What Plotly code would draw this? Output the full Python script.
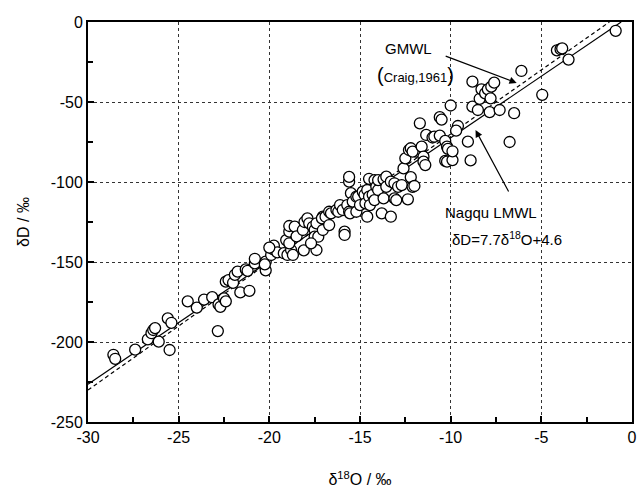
import numpy as np
import plotly.graph_objects as go

# δ18O (‰) and δD (‰) of samples
d18O = [
    -28.6, -28.5, -27.4, -26.7, -26.5, -26.4, -26.3, -26.1, -25.5, -25.6, -25.4,
    -24.5, -24.0, -23.6, -23.15, -22.84, -22.8, -22.7, -22.5, -22.4,
    -22.4, -22.25, -22.0, -21.9, -21.75, -21.6, -21.1, -21.3, -21.2, -20.8, -20.8,
    -20.2, -20.2, -20.25, -19.9, -19.8, -19.75, -19.56, -20.0,
    -19.2, -19.07, -19.0, -18.8, -18.7, -18.9, -18.9, -18.9, -18.6, -18.5, -18.15,
    -18.06, -18.1, -17.9, -17.8, -17.6, -17.5, -17.5, -17.4, -17.3, -17.7, -17.4,
    -17.05, -17.05, -17.1,
    -16.9, -16.7, -16.7, -16.6, -16.3, -16.2, -16.1, -15.95, -15.85, -15.85, -15.7,
    -15.6, -15.55, -15.5, -15.6, -15.6, -15.4, -15.2, -15.2, -15.1, -15.0, -14.85,
    -14.75, -14.7, -14.6, -14.5, -14.6, -14.5, -14.45, -14.3, -14.2, -14.2, -14.1,
    -14.0, -14.0,
    -13.8, -13.7, -13.7, -13.55, -13.55, -13.3, -13.3, -13.1, -13.1, -13.0, -12.9,
    -12.7, -12.6, -12.5, -12.36, -12.3, -12.2, -12.2, -12.1, -12.0, -11.9, -12.1,
    -11.7, -11.6, -11.5, -11.5, -11.4, -11.35, -11.0, -10.9, -10.6, -10.6, -10.5,
    -10.3, -10.2, -10.15, -10.3, -10.2, -10.0, -9.9, -9.9, -9.6, -9.7, -9.05, -8.9,
    -8.8, -8.8, -8.5, -8.4, -8.3, -8.1, -7.95, -7.76, -7.6, -7.8, -7.85, -7.3, -6.5,
    -6.75, -6.1, -4.95, -4.14, -3.94, -3.85, -3.5, -0.9,
]
dD = [
    -208.0, -210.5, -204.8, -198.3, -194.5, -192.5, -191.3, -199.8, -205.0, -185.2, -188.0,
    -174.6, -178.5, -173.5, -172.0, -193.2, -176.5, -178.0, -172.7, -174.6,
    -162.3, -161.3, -163.0, -158.0, -156.0, -169.0, -168.0, -154.6, -155.5, -150.8, -148.0,
    -155.2, -149.8, -151.5, -145.6, -141.9, -139.8, -144.0, -141.0,
    -144.5, -136.3, -145.6, -142.5, -145.6, -131.0, -127.5, -138.3, -127.9, -134.0, -130.0,
    -125.0, -142.7, -122.7, -125.8, -128.0, -130.0, -134.2, -142.5, -134.2, -138.3, -125.8,
    -121.7, -130.0, -122.7,
    -121.7, -118.6, -126.9, -119.6, -117.5, -118.6, -114.4, -117.5, -131.0, -133.1, -114.4,
    -118.6, -119.6, -107.0, -99.8, -96.8, -112.3, -109.2, -118.6, -109.2, -114.4, -106.0,
    -108.0, -113.3, -105.0, -109.2, -121.7, -98.0, -114.4, -108.0, -98.8, -111.3, -102.9,
    -105.0, -98.8,
    -119.6, -98.3, -110.2, -96.7, -103.0, -99.8, -121.7, -100.8, -110.2, -111.3, -103.0,
    -101.9, -91.5, -85.2, -110.8, -80.0, -78.9, -97.0, -103.0, -102.5, -81.0, -81.0,
    -63.3, -77.9, -84.2, -87.3, -89.4, -70.6, -72.2, -71.7, -71.0, -59.5, -61.0,
    -74.3, -77.9, -79.3, -86.8, -87.3, -52.2, -86.3, -80.8, -65.0, -67.9, -74.8, -86.5,
    -37.3, -52.9, -55.0, -48.0, -42.1, -44.6, -42.1, -40.4, -37.9, -47.7, -56.3, -55.0, -57.0,
    -75.0, -30.6, -45.5, -17.7, -17.0, -16.5, -23.5, -5.5,
]

# Meteoric water lines: slope, intercept
line_names = ["Nagqu LMWL", "GMWL"]
line_slopes = [7.7, 8.0]
line_intercepts = [4.6, 10.0]
line_dashes = ["solid", "4px,3px"]

x_ticks = [-30, -25, -20, -15, -10, -5, 0]
y_ticks = [-250, -200, -150, -100, -50, 0]

FONT = "Liberation Sans, Arial, sans-serif"

fig = go.Figure()

for name, a, b, dash in zip(line_names, line_slopes, line_intercepts, line_dashes):
    xs = np.array([-30.0, -b / a])
    fig.add_trace(go.Scatter(
        x=xs, y=a * xs + b, mode="lines", name=name,
        line=dict(color="black", width=1.2, dash=dash), showlegend=False,
    ))

fig.add_trace(go.Scatter(
    x=d18O, y=dD, mode="markers", showlegend=False,
    marker=dict(symbol="circle", size=11, color="white",
                line=dict(color="black", width=1.3)),
))

axis_common = dict(
    showline=True, linewidth=2, linecolor="black", mirror=True,
    ticks="inside", ticklen=6, tickwidth=1.5, tickcolor="black",
    showgrid=True, gridcolor="#333", gridwidth=1, griddash="dot",
    zeroline=False, automargin=False, ticklabeloverflow="allow",
    tickfont=dict(family=FONT, size=16, color="black"),
)

fig.update_xaxes(
    range=[-30, 0], tickvals=x_ticks, ticktext=[str(v) for v in x_ticks],
    minor=dict(ticks="inside", dtick=2.5, ticklen=5, tickwidth=1.5, tickcolor="black", showgrid=False),
    title=dict(text="δ<sup>18</sup>O / ‰", font=dict(family=FONT, size=16, color="black"), standoff=29),
    **axis_common,
)
fig.update_yaxes(
    range=[-250, 0], tickvals=y_ticks, ticktext=[str(v) for v in y_ticks],
    minor=dict(ticks="inside", dtick=25, ticklen=5, tickwidth=1.5, tickcolor="black", showgrid=False),
    title=dict(text="δD / ‰", font=dict(family=FONT, size=16, color="black"), standoff=17),
    **axis_common,
)

anno_font = dict(family=FONT, size=15, color="black")
fig.add_annotation(x=-12.3, y=-16.3, text="GMWL", showarrow=False, font=anno_font)
fig.add_annotation(x=-11.95, y=-33, showarrow=False,
                   text="<span style='font-size:20px'>(</span>Craig,1961<span style='font-size:20px'>)</span>",
                   font=dict(family=FONT, size=13, color="black"))
fig.add_annotation(x=-7.77, y=-119, text="Nagqu LMWL", showarrow=False, font=anno_font)
fig.add_annotation(x=-6.92, y=-135, text="δD=7.7δ<sup>18</sup>O+4.6", showarrow=False, font=anno_font)

fig.add_annotation(x=-6.36, y=-38.1, ax=-10.44, ay=-20.6, axref="x", ayref="y",
                   text=" ", showarrow=True, arrowhead=2, arrowsize=1.2, arrowwidth=1.2, arrowcolor="black")
fig.add_annotation(x=-8.63, y=-67.5, ax=-6.64, ay=-109.4, axref="x", ayref="y",
                   text=" ", showarrow=True, arrowhead=2, arrowsize=1.2, arrowwidth=1.2, arrowcolor="black")

fig.update_layout(
    width=638, height=493,
    margin=dict(l=88, r=6, t=22, b=71),
    paper_bgcolor="white", plot_bgcolor="white",
    font=dict(family=FONT, color="black"),
)

fig.write_html(
    "out.html",
    config={"displayModeBar": False},
    post_script="document.body.style.margin='0';document.body.style.overflow='hidden';",
)
